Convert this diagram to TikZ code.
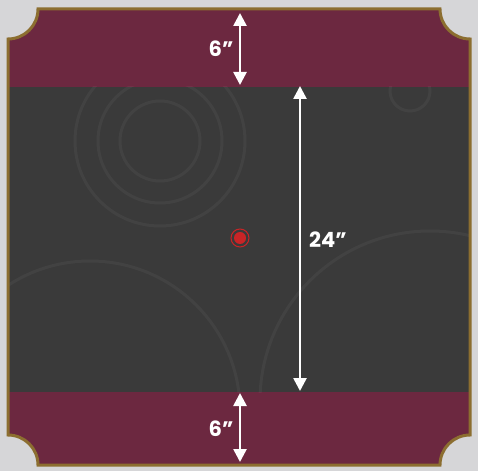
\documentclass[tikz,border=0pt]{standalone}
\usepackage{fontspec}
\setmainfont{Poppins}
\usetikzlibrary{positioning,arrows.meta}

\definecolor{bgGray}{RGB}{214,214,216}
\definecolor{goldRim}{RGB}{140,110,48}
\definecolor{zoneRed}{RGB}{108,40,64}
\definecolor{boardGray}{RGB}{58,58,58}
\definecolor{dotRed}{RGB}{200,36,38}

\begin{document}
\begin{tikzpicture}[
  x=1pt, y=1pt,
  >={Triangle[length=13pt,width=13pt]},
  dim/.style={<->, draw=white, line width=2.6pt},
  lbl/.style={text=white, font=\bfseries\fontsize{21}{23}\selectfont, inner sep=1pt},
  swirl/.style={draw=white, opacity=0.045, line width=3pt}
]
  \useasboundingbox (0,0) rectangle (478,471);
  \fill[bgGray] (0,0) rectangle (478,471);

  % board outline with notched corners
  \def\boardpath{(8,432) -- (8,36) arc[start angle=90, end angle=0, radius=30]
    -- (440,6) arc[start angle=180, end angle=90, radius=30]
    -- (470,432) arc[start angle=270, end angle=180, radius=30]
    -- (38,462) arc[start angle=0, end angle=-90, radius=30] -- cycle}

  \fill[zoneRed] \boardpath;
  \begin{scope}
    \clip \boardpath;
    \fill[boardGray] (0,79) rectangle (478,384);
    % faint texture
    \begin{scope}
      \clip (0,79) rectangle (478,384);
      \draw[swirl] (160,330) circle[radius=40];
      \draw[swirl] (160,330) circle[radius=62];
      \draw[swirl] (160,330) circle[radius=85];
      \draw[swirl] (90,60) circle[radius=150];
      \draw[swirl] (430,70) circle[radius=170];
      \draw[swirl] (410,380) circle[radius=20];
    \end{scope}
  \end{scope}
  \draw[goldRim, line width=3pt] \boardpath;

  % dimension arrows
  \coordinate (topA) at (240,458);
  \coordinate (topB) at (240,386);
  \coordinate (midA) at (300,385);
  \coordinate (midB) at (300,80);
  \coordinate (botA) at (240,78);
  \coordinate (botB) at (240,9);
  \draw[dim] (topA) -- (topB);
  \draw[dim] (midA) -- (midB);
  \draw[dim] (botA) -- (botB);

  \node[lbl] (topL) at (221,422) {6”};
  \node[lbl] (midL) at (328,231) {24”};
  \node[lbl] (botL) at (221,42) {6”};

  % centre marker
  \node[circle, fill=dotRed, minimum size=12pt, inner sep=0pt] (centre) at (240,233) {};
  \draw[dotRed, line width=1pt] (centre.center) circle[radius=9];
\end{tikzpicture}
\end{document}
